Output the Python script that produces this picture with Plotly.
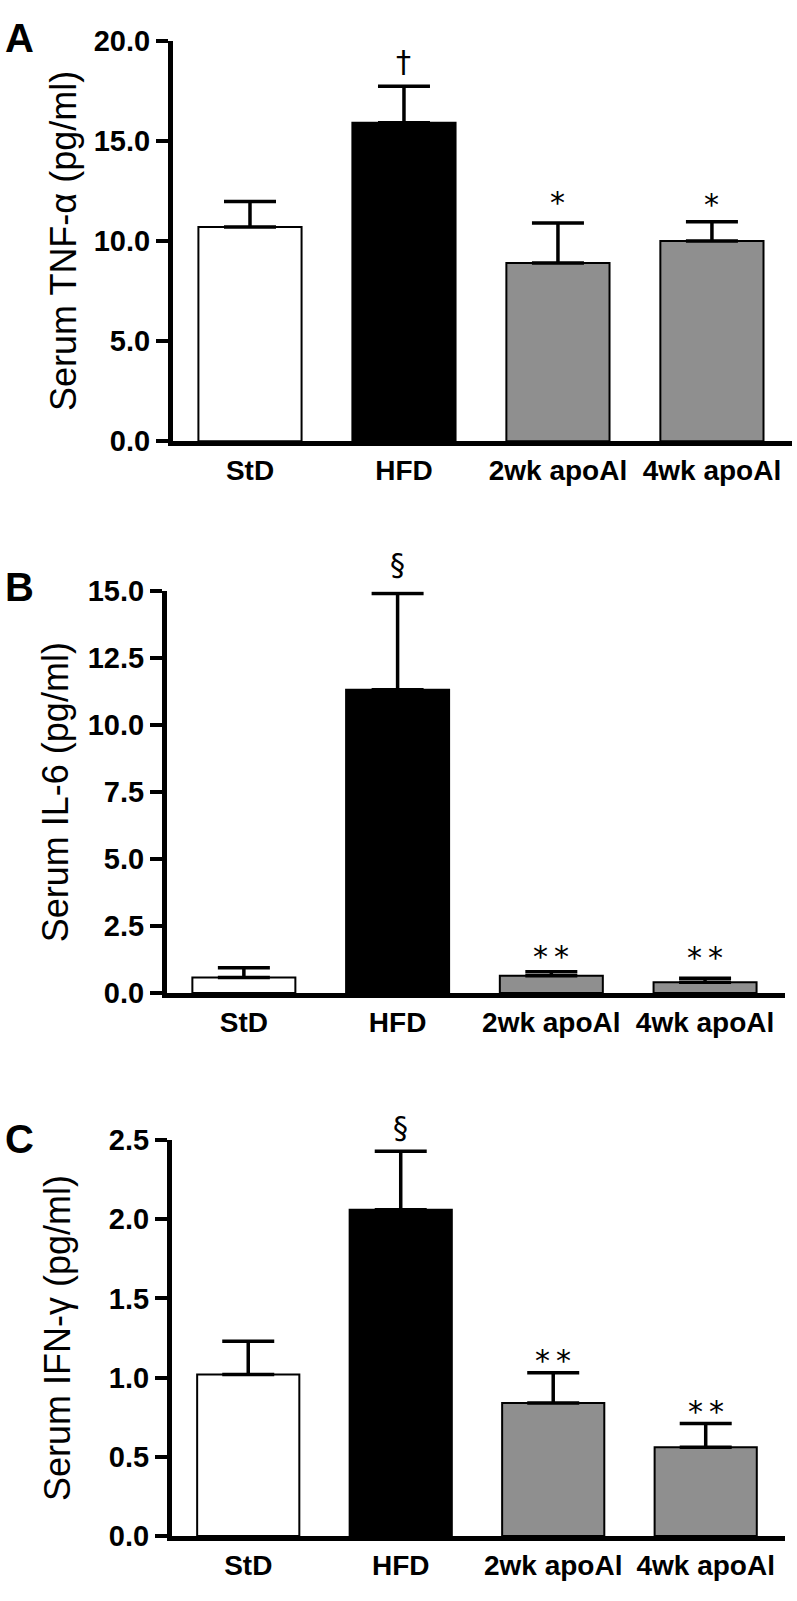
import plotly.graph_objects as go

categories = ["StD", "HFD", "2wk apoAl", "4wk apoAl"]

tnf_mean = [10.7, 15.9, 8.9, 10.0]
tnf_err = [1.27, 1.82, 2.0, 0.95]
tnf_marks = ["", "†", "*", "*"]

il6_mean = [0.58, 11.32, 0.65, 0.40]
il6_err = [0.37, 3.6, 0.15, 0.15]
il6_marks = ["", "§", "*\u2009*", "*\u2009*"]

ifn_mean = [1.02, 2.06, 0.84, 0.56]
ifn_err = [0.21, 0.37, 0.19, 0.15]
ifn_marks = ["", "§", "*\u2009*", "*\u2009*"]

bar_colors = ["#ffffff", "#000000", "#8f8f8f", "#8f8f8f"]

W, H = 797, 1601
FONT = "Liberation Sans, Arial, sans-serif"


def px_dom_x(a, b):
    return [a / W, b / W]


def px_dom_y(top, bottom):
    return [1 - bottom / H, 1 - top / H]


panels = [
    dict(mean=tnf_mean, err=tnf_err, marks=tnf_marks, rng=[0, 20], dtick=5,
         title="Serum TNF-α (pg/ml)", xd=(173, 792), yd=(25, 434), standoff=8,
         letter="A", letter_y=22, shifts=[0, 25, 20, 17]),
    dict(mean=il6_mean, err=il6_err, marks=il6_marks, rng=[0, 15], dtick=2.5,
         title="Serum IL-6 (pg/ml)", xd=(167, 785), yd=(587, 997), standoff=10,
         letter="B", letter_y=583, shifts=[0, 29, 15, 21]),
    dict(mean=ifn_mean, err=ifn_err, marks=ifn_marks, rng=[0, 2.5], dtick=0.5,
         title="Serum IFN-γ (pg/ml)", xd=(172, 785), yd=(1147, 1551), standoff=29,
         letter="C", letter_y=1146, shifts=[0, 24, 12, 12]),
]

fig = go.Figure()
annotations = []
layout_axes = {}

for i, p in enumerate(panels):
    n = "" if i == 0 else str(i + 1)
    xa, ya = "x" + n, "y" + n
    fig.add_trace(go.Bar(
        x=categories, y=p["mean"], xaxis=xa, yaxis=ya,
        width=0.67,
        marker=dict(color=bar_colors, line=dict(color="black", width=2)),
        error_y=dict(type="data", symmetric=False, array=p["err"],
                     arrayminus=[0] * len(p["err"]), color="black",
                     thickness=3.5, width=26),
        cliponaxis=False, showlegend=False,
    ))
    layout_axes["xaxis" + n] = dict(
        domain=px_dom_x(*p["xd"]), anchor=ya, type="category",
        categoryorder="array", categoryarray=categories,
        range=[-0.5, 3.52], showline=True, linecolor="black", linewidth=5,
        ticks="", showgrid=False, zeroline=False,
        tickfont=dict(family=FONT, size=28, color="black", weight="bold"),
    )
    layout_axes["yaxis" + n] = dict(
        domain=px_dom_y(*p["yd"]), anchor=xa, range=p["rng"], dtick=p["dtick"],
        tick0=0, tickformat=".1f", showline=True, linecolor="black", linewidth=5,
        ticks="outside", ticklen=12, tickwidth=4, tickcolor="black",
        showgrid=False, zeroline=False,
        tickfont=dict(family=FONT, size=29, color="black", weight="bold"),
        title=dict(text=p["title"], standoff=p["standoff"],
                   font=dict(family=FONT, size=36, color="black")),
    )
    for c, m, v, e, s in zip(categories, p["marks"], p["mean"], p["err"], p["shifts"]):
        if m:
            annotations.append(dict(
                x=c, y=v + e, xref=xa, yref=ya, text=m, showarrow=False,
                yanchor="middle", yshift=s,
                font=dict(family="DejaVu Sans", size=30, color="black"),
            ))
    annotations.append(dict(
        x=3 / W, y=1 - p["letter_y"] / H, xref="paper", yref="paper",
        text="<b>" + p["letter"] + "</b>", showarrow=False,
        xanchor="left", yanchor="middle",
        font=dict(family=FONT, size=40, color="black"),
    ))

fig.update_layout(
    width=W, height=H, margin=dict(l=0, r=0, t=0, b=0),
    plot_bgcolor="white", paper_bgcolor="white",
    showlegend=False, bargap=0.33,
    annotations=annotations, **layout_axes,
)

fig.write_html("out.html", config={"displayModeBar": False},
               post_script="document.body.style.margin='0px';")
